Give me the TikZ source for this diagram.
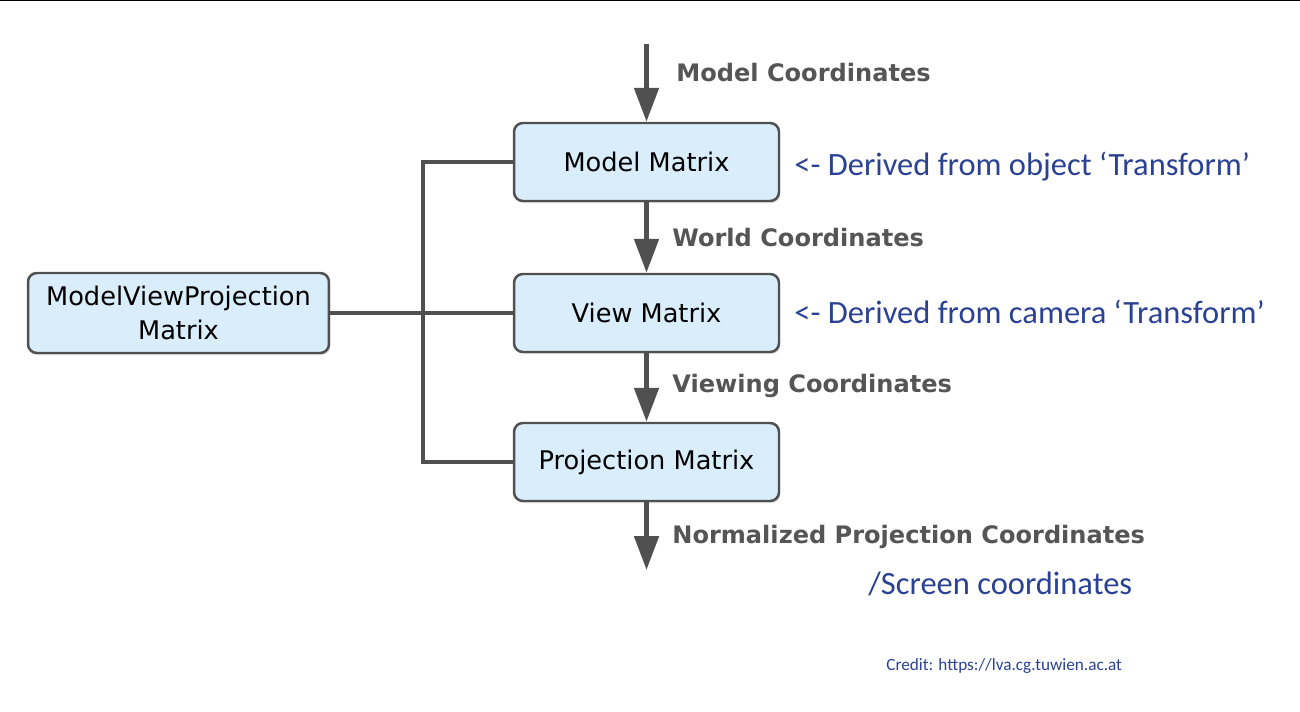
\documentclass[tikz,border=0pt]{standalone}
\usepackage{fontspec}
\setmainfont{DejaVu Sans}
\newfontfamily\notefont{Carlito}
\usetikzlibrary{positioning,arrows.meta,shadows}

\definecolor{boxfill}{HTML}{D9EDFB}
\definecolor{boxline}{HTML}{505050}
\definecolor{labelgray}{HTML}{555555}
\definecolor{noteblue}{HTML}{2B4294}

\begin{document}
\begin{tikzpicture}[x=0.02cm,y=-0.02cm,
    matrixbox/.style={draw=boxline,line width=1.4pt,fill=boxfill,rounded corners=5pt,
        minimum width=5.3cm,minimum height=1.56cm,align=center,font=\fontsize{14.6}{19.5}\selectfont,
        drop shadow={opacity=0.25,shadow xshift=0.8pt,shadow yshift=-1.2pt}},
    flow/.style={draw=boxline,line width=2.9pt,-{Triangle[width=0.48cm,length=0.68cm]}},
    link/.style={draw=boxline,line width=2.2pt},
    coordlabel/.style={anchor=west,inner sep=0pt,text=labelgray,font=\bfseries\fontsize{13.7}{16}\selectfont},
    note/.style={anchor=west,inner sep=0pt,text=noteblue,font=\notefont\fontsize{18.5}{22}\selectfont}]
    \useasboundingbox (0,0) rectangle (1300,712);
    \draw[line width=1pt] (0,0.5) -- (1300,0.5);

    % matrices
    \node[matrixbox] (model) at (646.5,162) {Model Matrix};
    \node[matrixbox] (view)  at (646.5,313) {View Matrix};
    \node[matrixbox] (proj)  at (646.5,462) {Projection Matrix};
    \node[matrixbox,minimum width=6.02cm,minimum height=1.6cm] (mvp) at (178.5,313)
        {ModelViewProjection\\Matrix};

    % pipeline
    \coordinate (in)  at (646.5,44);
    \coordinate (out) at (646.5,570);
    \coordinate (bus) at (423,313);
    \draw[flow] (in) -- (model.north);
    \draw[flow] (model.south) -- (view.north);
    \draw[flow] (view.south) -- (proj.north);
    \draw[flow] (proj.south) -- (out);

    \draw[link] (model.west) -| (bus) |- (proj.west);
    \draw[link] (mvp.east) -- (view.west);

    % labels
    \node[coordlabel] (lmodel) at (676,73)  {Model Coordinates};
    \node[coordlabel] (lworld) at (672,238) {World Coordinates};
    \node[coordlabel] (lview)  at (672,386) {Viewing Coordinates};
    \node[coordlabel] (lndc)   at (672,537) {Normalized Projection Coordinates};

    \node[note] (nobj) at (794,167) {<- Derived from object ‘Transform’};
    \node[note] (ncam) at (794,312) {<- Derived from camera ‘Transform’};
    \node[note] (nscr) at (868,584) {/Screen coordinates};
    \node[note,font=\notefont\fontsize{9.8}{12}\selectfont] (credit) at (886,666)
        {Credit: https://lva.cg.tuwien.ac.at};
\end{tikzpicture}
\end{document}
